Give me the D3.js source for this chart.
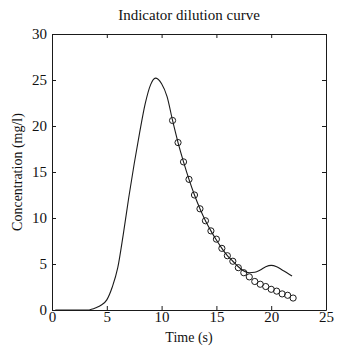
<!DOCTYPE html>
<html>
<head>
<meta charset="utf-8">
<script src="https://cdn.jsdelivr.net/npm/d3@7"></script>
<style>
  body { margin: 0; background: #fff; }
  text { font-family: "Liberation Serif", "DejaVu Serif", serif; fill: #111; }
</style>
</head>
<body>
<div id="chart"></div>
<script>
// measured curve (time s, concentration mg/l)
const curveTime = [0.3, 1, 2, 3, 3.3, 3.6, 4, 4.5, 5, 5.5, 6, 6.5, 7, 7.5, 8, 8.5, 9, 9.43, 10, 10.5, 11, 11.5, 12, 12.5, 13, 13.5, 14, 14.5, 15, 15.5, 16, 16.5, 17, 17.5, 18, 18.5, 19, 19.5, 20, 20.5, 21, 21.5, 21.9];
const curveConc = [0, 0, 0, 0, 0, 0.08, 0.25, 0.55, 1.1, 2.5, 4.6, 8.2, 12.2, 15.9, 19.3, 22.4, 24.5, 25.2, 24.6, 23.2, 20.6, 18.2, 16.1, 14.2, 12.5, 11.0, 9.7, 8.6, 7.6, 6.7, 5.9, 5.3, 4.7, 4.25, 4.05, 4.1, 4.35, 4.7, 4.85, 4.7, 4.35, 4.0, 3.7];

// fitted points (circles)
const fitTime = [11, 11.5, 12, 12.5, 13, 13.5, 14, 14.5, 15, 15.5, 16, 16.5, 17, 17.5, 18, 18.5, 19, 19.5, 20, 20.5, 21, 21.5, 22];
const fitConc = [20.6, 18.2, 16.1, 14.2, 12.5, 11.0, 9.7, 8.6, 7.7, 6.7, 5.9, 5.3, 4.6, 4.05, 3.6, 3.1, 2.8, 2.55, 2.25, 2.05, 1.75, 1.6, 1.3];

const xTicks = [0, 5, 10, 15, 20, 25];
const yTicks = [0, 5, 10, 15, 20, 25, 30];

const width = 337;
const height = 349;
const margin = { top: 34, right: 11, bottom: 39, left: 52 };

const svg = d3
  .select('#chart')
  .append('svg')
  .attr('width', width)
  .attr('height', height);

const xScale = d3.scaleLinear().domain([0, 25]).range([margin.left, width - margin.right]);
const yScale = d3.scaleLinear().domain([0, 30]).range([height - margin.bottom, margin.top]);

const ink = '#1a1a1a';

/* Axes (ticks pointing inward on all four sides)
=========================================================================*/
const axisBottomG = svg
  .append('g')
  .attr('transform', `translate(0, ${yScale(0)})`)
  .call(d3.axisBottom(xScale).tickValues(xTicks).tickSize(-4).tickSizeOuter(0).tickPadding(3));
const axisTopG = svg
  .append('g')
  .attr('transform', `translate(0, ${yScale(30)})`)
  .call(d3.axisTop(xScale).tickValues(xTicks).tickSize(-4).tickSizeOuter(0).tickFormat(''));
const axisLeftG = svg
  .append('g')
  .attr('transform', `translate(${xScale(0)}, 0)`)
  .call(d3.axisLeft(yScale).tickValues(yTicks).tickSize(-4).tickSizeOuter(0).tickPadding(5));
const axisRightG = svg
  .append('g')
  .attr('transform', `translate(${xScale(25)}, 0)`)
  .call(d3.axisRight(yScale).tickValues(yTicks).tickSize(-4).tickSizeOuter(0).tickFormat(''));

[axisBottomG, axisTopG, axisLeftG, axisRightG].forEach((g) => {
  g.selectAll('path, line').attr('stroke', ink).attr('stroke-width', 1);
  g.selectAll('text')
    .attr('fill', '#111')
    .style('font-family', '"Liberation Serif", serif')
    .style('font-size', '15px');
});
axisBottomG.selectAll('text').attr('dy', '0.62em');

/* Titles
=========================================================================*/
svg
  .append('text')
  .attr('x', (xScale(0) + xScale(25)) / 2)
  .attr('y', 20)
  .attr('text-anchor', 'middle')
  .style('font-size', '15px')
  .text('Indicator dilution curve');

svg
  .append('text')
  .attr('x', (xScale(0) + xScale(25)) / 2)
  .attr('y', 342)
  .attr('text-anchor', 'middle')
  .style('font-size', '14px')
  .text('Time (s)');

svg
  .append('text')
  .attr('transform', `translate(22, ${(yScale(0) + yScale(30)) / 2}) rotate(-90)`)
  .attr('text-anchor', 'middle')
  .style('font-size', '14px')
  .text('Concentration (mg/l)');

/* Curve
=========================================================================*/
const curveData = curveTime.map((t, i) => [t, curveConc[i]]);
const line = d3
  .line()
  .x(([t]) => xScale(t))
  .y(([, c]) => yScale(c))
  .curve(d3.curveMonotoneX);

svg
  .append('path')
  .datum(curveData)
  .attr('d', line)
  .attr('fill', 'none')
  .attr('stroke', ink)
  .attr('stroke-width', 1.1);

/* Circles
=========================================================================*/
const fitData = fitTime.map((t, i) => [t, fitConc[i]]);
svg
  .append('g')
  .selectAll('circle')
  .data(fitData)
  .enter()
  .append('circle')
  .attr('cx', ([t]) => xScale(t))
  .attr('cy', ([, c]) => yScale(c))
  .attr('r', 3.1)
  .attr('fill', 'none')
  .attr('stroke', ink)
  .attr('stroke-width', 1);
</script>
</body>
</html>
